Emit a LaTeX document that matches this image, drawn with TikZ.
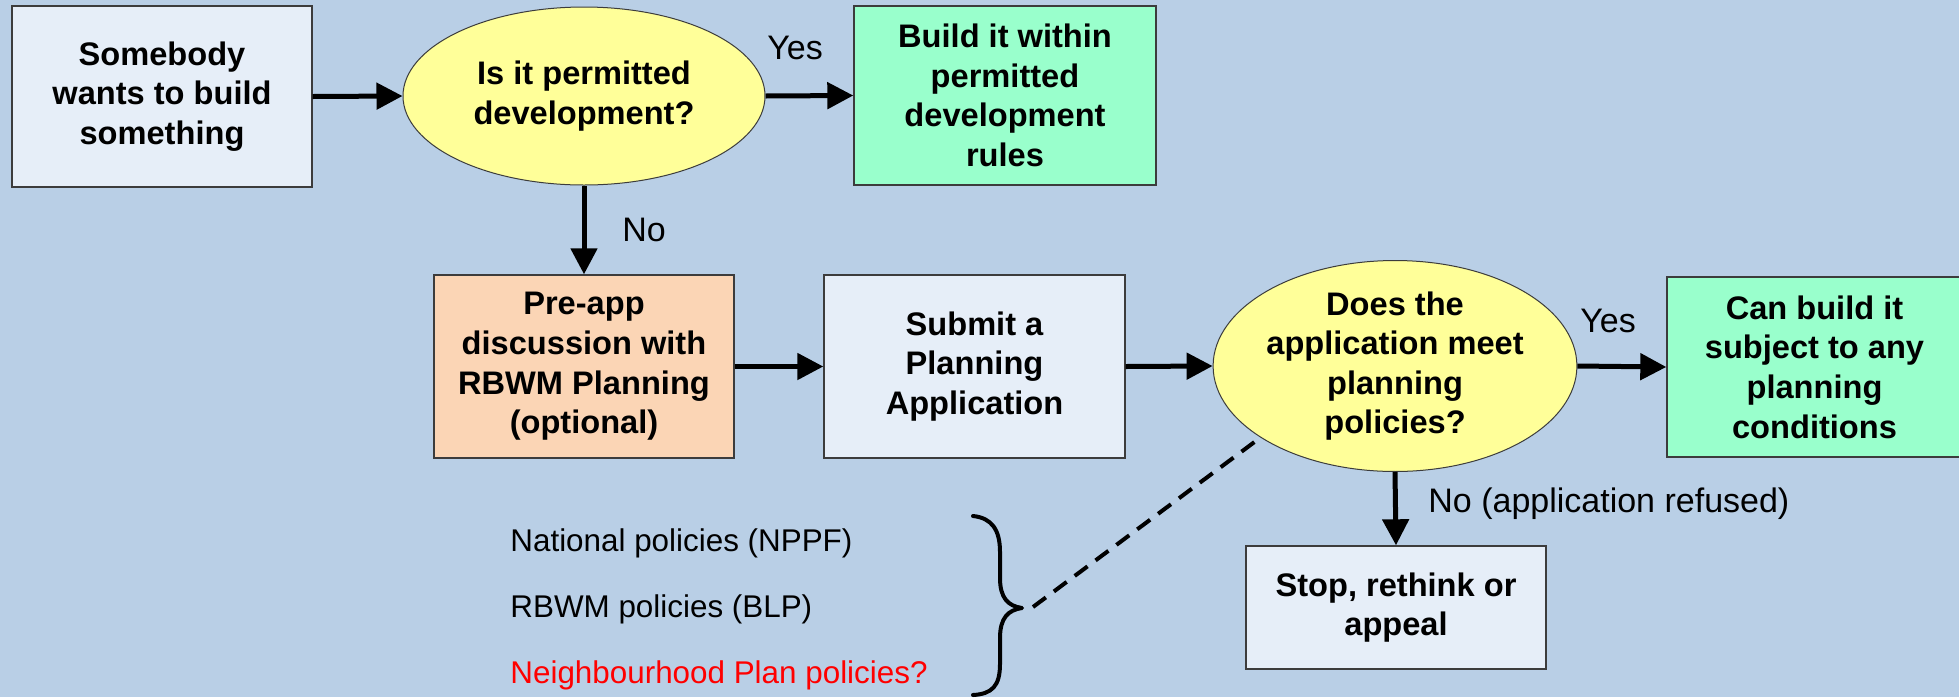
\documentclass[tikz,border=0pt]{standalone}
\usepackage{fontspec}
\setmainfont{Liberation Sans}
\usetikzlibrary{arrows.meta,shapes.geometric}
\definecolor{bg}{RGB}{185,207,230}
\definecolor{boxlight}{RGB}{230,238,248}
\definecolor{boxgreen}{RGB}{153,255,204}
\definecolor{boxpeach}{RGB}{251,213,181}
\definecolor{ellyellow}{RGB}{255,255,153}
\definecolor{edgegray}{RGB}{60,60,60}
\definecolor{redtext}{RGB}{255,0,0}
\begin{document}
\begin{tikzpicture}[x=0.5pt,y=-0.5pt,
  box/.style={rectangle, draw=edgegray, line width=0.7pt, inner sep=0pt, align=center,
    font=\bfseries\fontsize{16.3}{19.8}\selectfont},
  dec/.style={ellipse, draw=edgegray, line width=0.5pt, fill=ellyellow, inner sep=0pt, align=center,
    minimum width=181pt, font=\bfseries\fontsize{16.3}{19.8}\selectfont},
  flow/.style={line width=2.5pt, -{Triangle[length=13pt,width=13pt]}},
  lbl/.style={font=\fontsize{17}{20}\selectfont, inner sep=0pt},
  pol/.style={font=\fontsize{15.7}{18}\selectfont, inner sep=0pt, anchor=west},
  bracepath/.style={line width=2pt, line cap=round, line join=round},
]
\useasboundingbox (0,0) rectangle (1959,697);
\fill[bg] (0,0) rectangle (1959,697);
\clip (0,0) rectangle (1959,697);

\node[box, fill=boxlight, minimum width=150pt, minimum height=90.5pt] (start) at (162,96.5)
  {Somebody\\wants to build\\something};
\node[dec, minimum height=89pt] (pd) at (584,96) {Is it permitted\\development?};
\node[box, fill=boxgreen, minimum width=151pt, minimum height=89.5pt] (pdok) at (1005,95.5)
  {Build it within\\permitted\\development\\rules};
\node[box, fill=boxpeach, minimum width=150pt, minimum height=91.5pt] (pre) at (584,366.5)
  {Pre-app\\discussion with\\RBWM Planning\\(optional)};
\node[box, fill=boxlight, minimum width=150.5pt, minimum height=91.5pt] (submit) at (974.5,366.5)
  {Submit a\\Planning\\Application};
\node[dec, minimum height=91pt] (meet) at (1395,366) {Does the\\application meet\\planning\\policies?};
\node[box, fill=boxgreen, minimum width=147.5pt, minimum height=90pt] (can) at (1814.5,367)
  {Can build it\\subject to any\\planning\\conditions};
\node[box, fill=boxlight, minimum width=150pt, minimum height=61.5pt] (stop) at (1396,607.5)
  {Stop, rethink or\\appeal};

\draw[flow] (start.east) -- (pd.west);
\draw[flow] (pd.east) -- (pdok.west);
\draw[flow] (pd.south) -- (pre.north);
\draw[flow] (pre.east) -- (submit.west);
\draw[flow] (submit.east) -- (meet.west);
\draw[flow] (meet.east) -- (can.west);
\draw[flow] (meet.south) -- (stop.north);

\node[lbl] (yes1) at (795,48) {Yes};
\node[lbl] (no1) at (644,230) {No};
\node[lbl] (yes2) at (1608,321) {Yes};
\node[lbl, anchor=west] (no2) at (1428,504) {No (application refused)};

\node[pol] (nat) at (510,543) {National policies (NPPF)};
\node[pol] (rbwm) at (510,609) {RBWM policies (BLP)};
\node[pol, text=redtext] (nbh) at (510,675) {Neighbourhood Plan policies?};

\coordinate (bt) at (1022,608);
\draw[bracepath] (973,516) .. controls (992,518) and (1000,530) .. (1000,552)
  -- (1000,578) .. controls (1000,598) and (1008,606) .. (bt)
  .. controls (1008,610) and (1000,618) .. (1000,638)
  -- (1000,664) .. controls (1000,686) and (992,694) .. (973,695);
\coordinate (dstart) at (1033,607);
\draw[line width=2pt, dash pattern=on 8pt off 5pt] (dstart) -- (meet.208);
\end{tikzpicture}
\end{document}
